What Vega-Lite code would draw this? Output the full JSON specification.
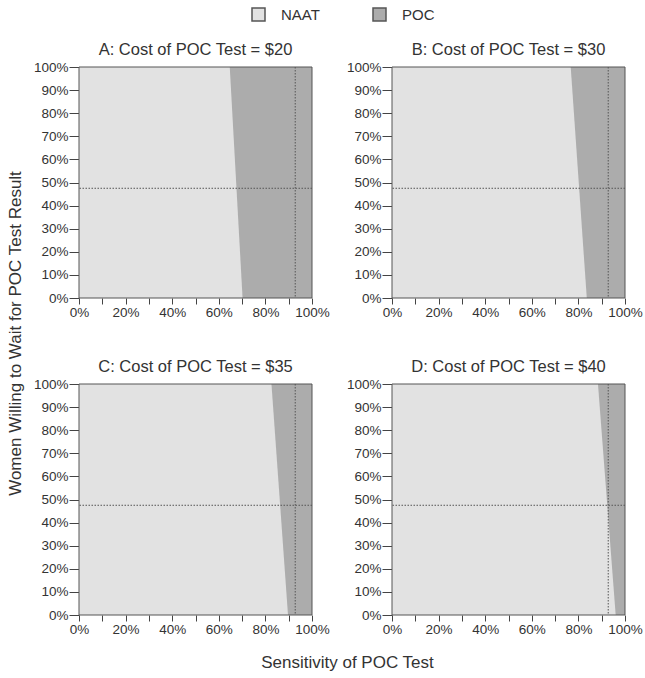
{
  "$schema": "https://vega.github.io/schema/vega-lite/v6.json",
  "description": "Preferred test (NAAT vs POC) by POC sensitivity and share of women willing to wait, at four POC test costs.",
  "padding": {"left": 5, "top": 7, "right": 5, "bottom": 5},
  "background": "white",
  "data": {
    "values": [
      {"panel": "A", "option": "NAAT", "sens": 0, "sens_end": 100, "wait": 0, "wait_end": 100},
      {"panel": "A", "option": "POC", "sens": 70.2, "sens_end": 100, "wait": 0},
      {"panel": "A", "option": "POC", "sens": 64.7, "sens_end": 100, "wait": 100},
      {"panel": "A", "option": "ref", "sens": 92.8, "wait": 47.5},
      {"panel": "B", "option": "NAAT", "sens": 0, "sens_end": 100, "wait": 0, "wait_end": 100},
      {"panel": "B", "option": "POC", "sens": 83.6, "sens_end": 100, "wait": 0},
      {"panel": "B", "option": "POC", "sens": 76.7, "sens_end": 100, "wait": 100},
      {"panel": "B", "option": "ref", "sens": 92.8, "wait": 47.5},
      {"panel": "C", "option": "NAAT", "sens": 0, "sens_end": 100, "wait": 0, "wait_end": 100},
      {"panel": "C", "option": "POC", "sens": 89.7, "sens_end": 100, "wait": 0},
      {"panel": "C", "option": "POC", "sens": 82.6, "sens_end": 100, "wait": 100},
      {"panel": "C", "option": "ref", "sens": 92.8, "wait": 47.5},
      {"panel": "D", "option": "NAAT", "sens": 0, "sens_end": 100, "wait": 0, "wait_end": 100},
      {"panel": "D", "option": "POC", "sens": 96.0, "sens_end": 100, "wait": 0},
      {"panel": "D", "option": "POC", "sens": 88.4, "sens_end": 100, "wait": 100},
      {"panel": "D", "option": "ref", "sens": 92.8, "wait": 47.5}
    ]
  },
  "columns": 2,
  "spacing": {"row": 86, "column": 80},
  "bounds": "flush",
  "concat": [
    {
      "title": "A: Cost of POC Test = $20",
      "width": 233,
      "height": 231,
      "transform": [{"filter": "datum.panel === 'A'"}],
      "layer": [
        {
          "transform": [{"filter": "datum.option === 'NAAT'"}],
          "mark": {"type": "rect", "opacity": 1},
          "encoding": {
            "x": {"field": "sens", "type": "quantitative", "scale": {"domain": [0, 100]}, "axis": {"title": null}},
            "x2": {"field": "sens_end"},
            "y": {"field": "wait", "type": "quantitative", "scale": {"domain": [0, 100]},
                  "axis": {"title": "Women Willing to Wait for POC Test Result", "titleX": -59, "titleY": 266, "titleAngle": 270, "titleAlign": "center", "titleBaseline": "alphabetic"}},
            "y2": {"field": "wait_end"},
            "color": {"field": "option", "type": "nominal",
                      "scale": {"domain": ["NAAT", "POC"], "range": ["#e2e2e2", "#acacac"]},
                      "legend": {"title": null, "orient": "none", "legendX": 172, "legendY": -60, "direction": "horizontal"}}
          }
        },
        {
          "transform": [{"filter": "datum.option === 'POC'"}],
          "mark": {"type": "area", "orient": "horizontal", "opacity": 1},
          "encoding": {
            "x": {"field": "sens", "type": "quantitative"},
            "x2": {"field": "sens_end"},
            "y": {"field": "wait", "type": "quantitative"},
            "color": {"field": "option", "type": "nominal"}
          }
        },
        {
          "transform": [{"filter": "datum.option === 'ref'"}],
          "mark": {"type": "rule", "color": "#555", "strokeWidth": 1, "strokeDash": [1.5, 1.5]},
          "encoding": {"y": {"field": "wait", "type": "quantitative"}}
        },
        {
          "transform": [{"filter": "datum.option === 'ref'"}],
          "mark": {"type": "rule", "color": "#555", "strokeWidth": 1, "strokeDash": [1.5, 1.5]},
          "encoding": {"x": {"field": "sens", "type": "quantitative"}}
        },
        {
          "transform": [{"filter": "datum.option === 'NAAT'"}],
          "mark": {"type": "rect", "filled": false, "stroke": "#555", "strokeWidth": 1},
          "encoding": {
            "x": {"field": "sens", "type": "quantitative"},
            "x2": {"field": "sens_end"},
            "y": {"field": "wait", "type": "quantitative"},
            "y2": {"field": "wait_end"}
          }
        }
      ]
    },
    {
      "title": "B: Cost of POC Test = $30",
      "width": 233,
      "height": 231,
      "transform": [{"filter": "datum.panel === 'B'"}],
      "layer": [
        {
          "transform": [{"filter": "datum.option === 'NAAT'"}],
          "mark": {"type": "rect", "opacity": 1},
          "encoding": {
            "x": {"field": "sens", "type": "quantitative", "scale": {"domain": [0, 100]}, "axis": {"title": null}},
            "x2": {"field": "sens_end"},
            "y": {"field": "wait", "type": "quantitative", "scale": {"domain": [0, 100]}, "axis": {"title": null}},
            "y2": {"field": "wait_end"},
            "color": {"field": "option", "type": "nominal"}
          }
        },
        {
          "transform": [{"filter": "datum.option === 'POC'"}],
          "mark": {"type": "area", "orient": "horizontal", "opacity": 1},
          "encoding": {
            "x": {"field": "sens", "type": "quantitative"},
            "x2": {"field": "sens_end"},
            "y": {"field": "wait", "type": "quantitative"},
            "color": {"field": "option", "type": "nominal"}
          }
        },
        {
          "transform": [{"filter": "datum.option === 'ref'"}],
          "mark": {"type": "rule", "color": "#555", "strokeWidth": 1, "strokeDash": [1.5, 1.5]},
          "encoding": {"y": {"field": "wait", "type": "quantitative"}}
        },
        {
          "transform": [{"filter": "datum.option === 'ref'"}],
          "mark": {"type": "rule", "color": "#555", "strokeWidth": 1, "strokeDash": [1.5, 1.5]},
          "encoding": {"x": {"field": "sens", "type": "quantitative"}}
        },
        {
          "transform": [{"filter": "datum.option === 'NAAT'"}],
          "mark": {"type": "rect", "filled": false, "stroke": "#555", "strokeWidth": 1},
          "encoding": {
            "x": {"field": "sens", "type": "quantitative"},
            "x2": {"field": "sens_end"},
            "y": {"field": "wait", "type": "quantitative"},
            "y2": {"field": "wait_end"}
          }
        }
      ]
    },
    {
      "title": "C: Cost of POC Test = $35",
      "width": 233,
      "height": 231,
      "transform": [{"filter": "datum.panel === 'C'"}],
      "layer": [
        {
          "transform": [{"filter": "datum.option === 'NAAT'"}],
          "mark": {"type": "rect", "opacity": 1},
          "encoding": {
            "x": {"field": "sens", "type": "quantitative", "scale": {"domain": [0, 100]},
                  "axis": {"title": "Sensitivity of POC Test", "titleX": 268, "titleY": 52, "titleAlign": "center", "titleBaseline": "alphabetic"}},
            "x2": {"field": "sens_end"},
            "y": {"field": "wait", "type": "quantitative", "scale": {"domain": [0, 100]}, "axis": {"title": null}},
            "y2": {"field": "wait_end"},
            "color": {"field": "option", "type": "nominal"}
          }
        },
        {
          "transform": [{"filter": "datum.option === 'POC'"}],
          "mark": {"type": "area", "orient": "horizontal", "opacity": 1},
          "encoding": {
            "x": {"field": "sens", "type": "quantitative"},
            "x2": {"field": "sens_end"},
            "y": {"field": "wait", "type": "quantitative"},
            "color": {"field": "option", "type": "nominal"}
          }
        },
        {
          "transform": [{"filter": "datum.option === 'ref'"}],
          "mark": {"type": "rule", "color": "#555", "strokeWidth": 1, "strokeDash": [1.5, 1.5]},
          "encoding": {"y": {"field": "wait", "type": "quantitative"}}
        },
        {
          "transform": [{"filter": "datum.option === 'ref'"}],
          "mark": {"type": "rule", "color": "#555", "strokeWidth": 1, "strokeDash": [1.5, 1.5]},
          "encoding": {"x": {"field": "sens", "type": "quantitative"}}
        },
        {
          "transform": [{"filter": "datum.option === 'NAAT'"}],
          "mark": {"type": "rect", "filled": false, "stroke": "#555", "strokeWidth": 1},
          "encoding": {
            "x": {"field": "sens", "type": "quantitative"},
            "x2": {"field": "sens_end"},
            "y": {"field": "wait", "type": "quantitative"},
            "y2": {"field": "wait_end"}
          }
        }
      ]
    },
    {
      "title": "D: Cost of POC Test = $40",
      "width": 233,
      "height": 231,
      "transform": [{"filter": "datum.panel === 'D'"}],
      "layer": [
        {
          "transform": [{"filter": "datum.option === 'NAAT'"}],
          "mark": {"type": "rect", "opacity": 1},
          "encoding": {
            "x": {"field": "sens", "type": "quantitative", "scale": {"domain": [0, 100]}, "axis": {"title": null}},
            "x2": {"field": "sens_end"},
            "y": {"field": "wait", "type": "quantitative", "scale": {"domain": [0, 100]}, "axis": {"title": null}},
            "y2": {"field": "wait_end"},
            "color": {"field": "option", "type": "nominal"}
          }
        },
        {
          "transform": [{"filter": "datum.option === 'POC'"}],
          "mark": {"type": "area", "orient": "horizontal", "opacity": 1},
          "encoding": {
            "x": {"field": "sens", "type": "quantitative"},
            "x2": {"field": "sens_end"},
            "y": {"field": "wait", "type": "quantitative"},
            "color": {"field": "option", "type": "nominal"}
          }
        },
        {
          "transform": [{"filter": "datum.option === 'ref'"}],
          "mark": {"type": "rule", "color": "#555", "strokeWidth": 1, "strokeDash": [1.5, 1.5]},
          "encoding": {"y": {"field": "wait", "type": "quantitative"}}
        },
        {
          "transform": [{"filter": "datum.option === 'ref'"}],
          "mark": {"type": "rule", "color": "#555", "strokeWidth": 1, "strokeDash": [1.5, 1.5]},
          "encoding": {"x": {"field": "sens", "type": "quantitative"}}
        },
        {
          "transform": [{"filter": "datum.option === 'NAAT'"}],
          "mark": {"type": "rect", "filled": false, "stroke": "#555", "strokeWidth": 1},
          "encoding": {
            "x": {"field": "sens", "type": "quantitative"},
            "x2": {"field": "sens_end"},
            "y": {"field": "wait", "type": "quantitative"},
            "y2": {"field": "wait_end"}
          }
        }
      ]
    }
  ],
  "config": {
    "font": "Liberation Sans",
    "view": {"stroke": null},
    "title": {"font": "Liberation Sans", "fontSize": 16.5, "fontWeight": "normal", "color": "#333", "anchor": "middle", "offset": 2, "baseline": "alphabetic"},
    "axis": {
      "domain": false,
      "grid": false,
      "zindex": 1,
      "tickCount": 10,
      "tickColor": "#444",
      "labelFont": "Liberation Sans",
      "labelFontSize": 13.5,
      "labelColor": "#333",
      "labelFlush": false,
      "labelOverlap": false,
      "labelPadding": 1,
      "titleFont": "Liberation Sans",
      "titleFontSize": 17,
      "titleFontWeight": "normal",
      "titleColor": "#333"
    },
    "axisX": {"tickSize": 6, "labelExpr": "datum.value % 20 === 0 ? datum.value + '%' : ''"},
    "axisY": {"tickSize": 10, "labelExpr": "datum.value + '%'"},
    "legend": {
      "padding": 0,
      "symbolType": "square",
      "symbolSize": 169,
      "symbolStrokeColor": "#555",
      "symbolStrokeWidth": 1.5,
      "labelFont": "Liberation Sans",
      "labelFontSize": 15,
      "labelColor": "#333",
      "labelOffset": 15,
      "columnPadding": 50
    }
  }
}
